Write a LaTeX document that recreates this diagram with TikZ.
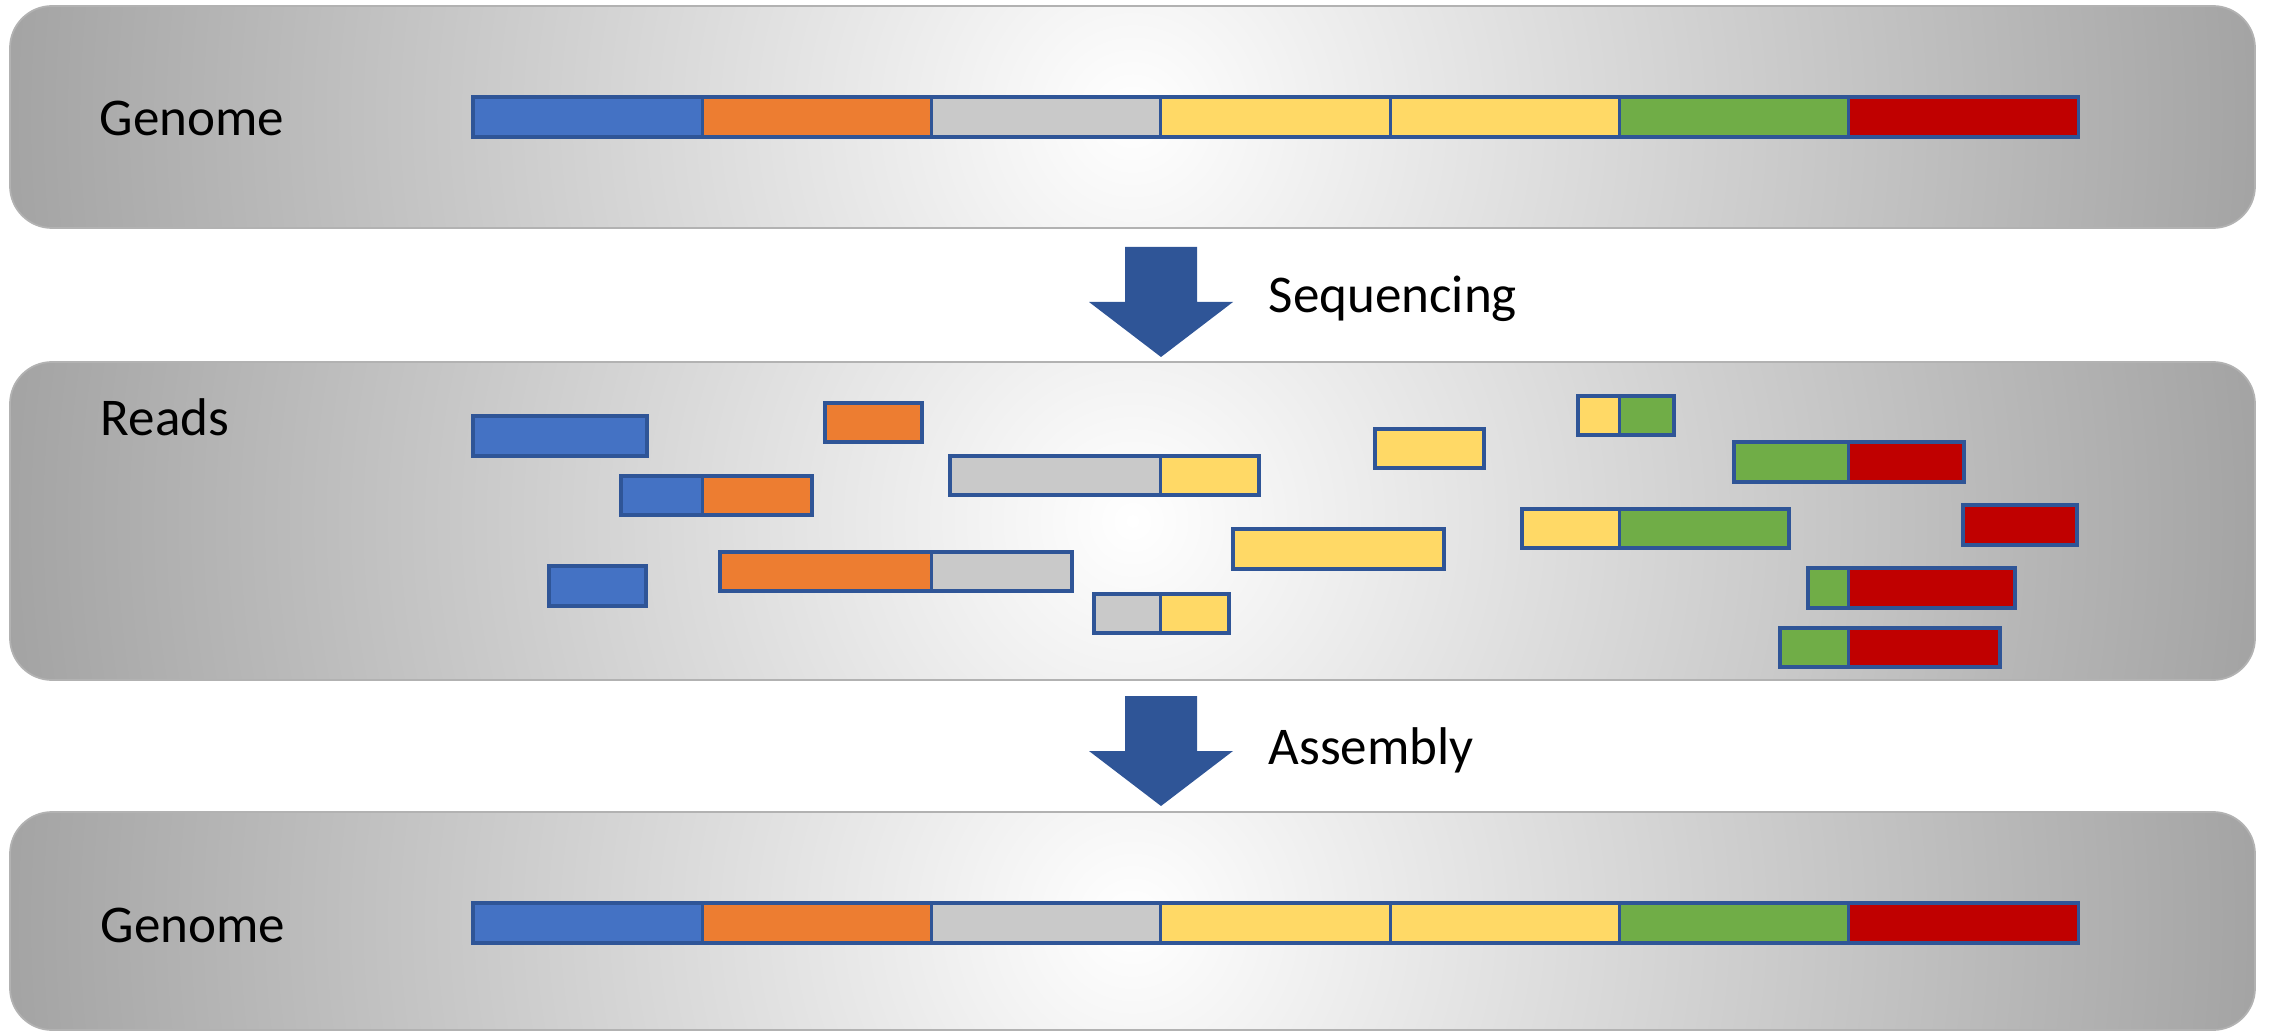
\documentclass[tikz,border=0pt]{standalone}
\usepackage{fontspec}
\setmainfont{Carlito}
\usepackage{tikz}
\usetikzlibrary{positioning,calc}
\usepackage{xcolor}

\definecolor{cblue}{HTML}{4472C4}
\definecolor{corange}{HTML}{ED7D31}
\definecolor{cgray}{HTML}{C9C9C9}
\definecolor{cyellow}{HTML}{FFD966}
\definecolor{cgreen}{HTML}{70AD47}
\definecolor{cred}{HTML}{C00000}
\definecolor{darkblue}{HTML}{2F5597}
\definecolor{panelgray}{HTML}{A3A3A3}

\begin{document}
\begin{tikzpicture}[
  blk/.style={draw=darkblue, line width=0.9pt},
  lbl/.style={font=\fontsize{15.1}{18}\selectfont, inner sep=0pt},
  bigarrow/.style={fill=darkblue, draw=none}]
\useasboundingbox (0,0) rectangle (22.69,-10.31);

% the three shaded panels
\foreach \t/\b in {0.06/2.28, 3.62/6.80, 8.12/10.30} {
  \pgfmathsetmacro{\c}{-(\t+\b)/2}
  \begin{scope}
    \clip[rounded corners=4.2mm] (0.10,-\t) rectangle (22.55,-\b);
    \shade[inner color=white, outer color=panelgray] (0,\c-11.3) rectangle (22.65,\c+11.3);
  \end{scope}
  \draw[rounded corners=4.2mm, draw=black!30, line width=0.5pt] (0.10,-\t) rectangle (22.55,-\b);
}

% genome bars, top and bottom
\foreach \y in {0.97, 9.03} {
  \foreach \col [count=\i] in {cblue,corange,cgray,cyellow,cyellow,cgreen,cred} {
    \draw[blk, fill=\col] ({4.73+(\i-1)*2.293},-\y) rectangle ++(2.293,-0.40);
  }
}

\node[lbl, anchor=base west] (genometop) at (0.99,-1.36) {Genome};
\node[lbl, anchor=base west] (genomebot) at (1.00,-9.42) {Genome};
\node[lbl, anchor=base west] (reads) at (1.00,-4.35) {Reads};

% reads
\draw[blk, fill=cblue] (4.73,-4.16) rectangle (6.47,-4.56);
\draw[blk, fill=corange] (8.25,-4.03) rectangle (9.22,-4.42);
\draw[blk, fill=cgray] (9.50,-4.56) rectangle (11.609,-4.95);
\draw[blk, fill=cyellow] (11.609,-4.56) rectangle (12.59,-4.95);
\draw[blk, fill=cblue] (6.21,-4.76) rectangle (7.023,-5.15);
\draw[blk, fill=corange] (7.023,-4.76) rectangle (8.12,-5.15);
\draw[blk, fill=cblue] (5.49,-5.66) rectangle (6.46,-6.06);
\draw[blk, fill=corange] (7.20,-5.52) rectangle (9.316,-5.91);
\draw[blk, fill=cgray] (9.316,-5.52) rectangle (10.72,-5.91);
\draw[blk, fill=cgray] (10.94,-5.94) rectangle (11.609,-6.33);
\draw[blk, fill=cyellow] (11.609,-5.94) rectangle (12.29,-6.33);
\draw[blk, fill=cyellow] (13.75,-4.29) rectangle (14.84,-4.68);
\draw[blk, fill=cyellow] (12.33,-5.29) rectangle (14.44,-5.69);
\draw[blk, fill=cyellow] (15.78,-3.96) rectangle (16.195,-4.35);
\draw[blk, fill=cgreen] (16.195,-3.96) rectangle (16.74,-4.35);
\draw[blk, fill=cgreen] (17.34,-4.42) rectangle (18.488,-4.82);
\draw[blk, fill=cred] (18.488,-4.42) rectangle (19.64,-4.82);
\draw[blk, fill=cyellow] (15.22,-5.09) rectangle (16.195,-5.48);
\draw[blk, fill=cgreen] (16.195,-5.09) rectangle (17.89,-5.48);
\draw[blk, fill=cred] (19.63,-5.05) rectangle (20.77,-5.45);
\draw[blk, fill=cgreen] (18.08,-5.68) rectangle (18.488,-6.08);
\draw[blk, fill=cred] (18.488,-5.68) rectangle (20.15,-6.08);
\draw[blk, fill=cgreen] (17.80,-6.28) rectangle (18.488,-6.67);
\draw[blk, fill=cred] (18.488,-6.28) rectangle (20.00,-6.67);

% block arrows between the panels
\foreach \top in {2.47, 6.96} {
  \fill[bigarrow] (11.25,-\top) -- (11.97,-\top) -- (11.97,-\top-0.55) -- (12.33,-\top-0.55)
    -- (11.61,-\top-1.10) -- (10.89,-\top-0.55) -- (11.25,-\top-0.55) -- cycle;
}
\node[lbl, anchor=base west] (seq) at (12.68,-3.13) {Sequencing};
\node[lbl, anchor=base west] (asm) at (12.68,-7.64) {Assembly};
\end{tikzpicture}
\end{document}
